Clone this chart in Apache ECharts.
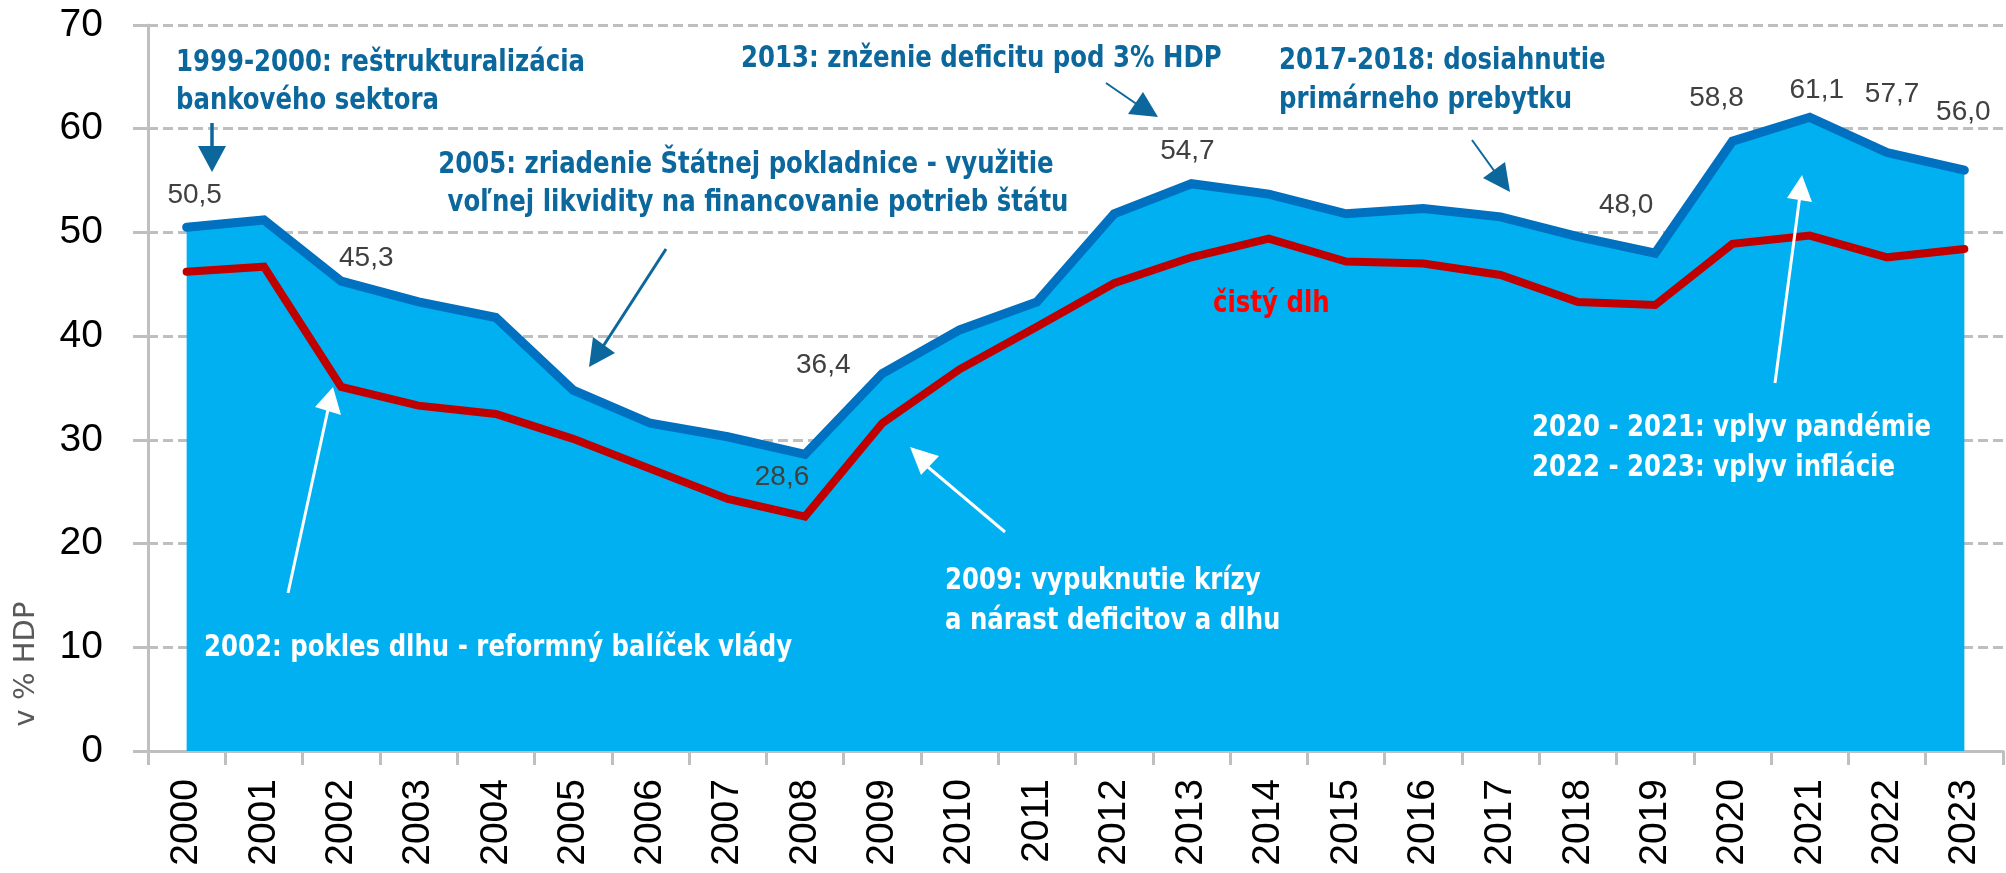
<!DOCTYPE html>
<html>
<head>
<meta charset="utf-8">
<script src="https://cdn.jsdelivr.net/npm/echarts@6/dist/echarts.min.js"></script>
<style>
  html, body { margin: 0; padding: 0; background: #fff; }
  #chart { width: 2006px; height: 873px; }
</style>
</head>
<body>
<div id="chart"></div>
<script>
// years on the x axis
const years = ['2000', '2001', '2002', '2003', '2004', '2005', '2006', '2007', '2008', '2009', '2010', '2011',
  '2012', '2013', '2014', '2015', '2016', '2017', '2018', '2019', '2020', '2021', '2022', '2023'];
// hrubý dlh (% HDP)
const grossDebt = [50.5, 51.2, 45.3, 43.3, 41.8, 34.8, 31.6, 30.3, 28.6, 36.4, 40.6, 43.3,
  51.8, 54.7, 53.7, 51.8, 52.3, 51.5, 49.6, 48.0, 58.8, 61.1, 57.7, 56.0];
// čistý dlh (% HDP)
const netDebt = [46.2, 46.7, 35.1, 33.3, 32.5, 30.1, 27.2, 24.3, 22.6, 31.6, 36.8, 40.9,
  45.1, 47.6, 49.4, 47.2, 47.0, 45.9, 43.3, 43.0, 48.9, 49.7, 47.6, 48.4];
const yTicks = [0, 10, 20, 30, 40, 50, 60, 70];
// which points carry a value label, and where the label sits relative to the point
const labelOffsets = {
  '2000': [8, -32], '2002': [25, -23], '2008': [-23, 23], '2009': [-59, -8], '2013': [-4, -32],
  '2019': [-29, -48], '2020': [-16, -43], '2021': [7, -27], '2022': [5, -58], '2023': [-1, -58]
};

const annoFont = '"Liberation Sans Narrow", "DejaVu Sans Condensed", "Open Sans", sans-serif';
const annoSize = 31;
const darkBlue = '#0B679C';

// the original uses a narrow bold face; squeeze whatever is installed to the same width
const ctx = document.createElement('canvas').getContext('2d');
ctx.font = 'bold ' + annoSize + 'px ' + annoFont;
const squeeze = 409 / ctx.measureText('1999-2000: reštrukturalizácia').width;

const grossData = grossDebt.map(function (v, i) {
  const off = labelOffsets[years[i]];
  if (!off) return v;
  return {
    value: v,
    label: {
      show: true, position: 'inside', offset: off,
      fontFamily: '"Liberation Sans", Arial, sans-serif', fontSize: 28, color: '#404040',
      formatter: function (p) { return p.value.toFixed(1).replace('.', ','); }
    }
  };
});

function txt(text, x, y, color, align) {
  return {
    type: 'text', z: 100, x: x, y: y, scaleX: squeeze,
    style: {
      text: text, fill: color, align: align || 'left', verticalAlign: 'middle',
      font: 'bold ' + annoSize + 'px ' + annoFont
    }
  };
}
function arrow(x1, y1, x2, y2, head, color, width) {
  return [
    { type: 'line', z: 100, shape: { x1: x1, y1: y1, x2: x2, y2: y2 }, style: { stroke: color, lineWidth: width } },
    { type: 'polygon', z: 100, shape: { points: head }, style: { fill: color } }
  ];
}

const graphics = [].concat(
  [
    txt('1999-2000: reštrukturalizácia', 176, 63, darkBlue),
    txt('bankového sektora', 176, 101, darkBlue),
    txt('2005: zriadenie Štátnej pokladnice - využitie', 746, 165, darkBlue, 'center'),
    txt('voľnej likvidity na financovanie potrieb štátu', 758, 203, darkBlue, 'center'),
    txt('2013: znženie deficitu pod 3% HDP', 741, 59, darkBlue),
    txt('2017-2018: dosiahnutie', 1279, 61, darkBlue),
    txt('primárneho prebytku', 1279, 100, darkBlue),
    txt('čistý dlh', 1213, 304, '#FF0000'),
    txt('2002: pokles dlhu - reformný balíček vlády', 204, 648, '#FFFFFF'),
    txt('2009: vypuknutie krízy', 945, 581, '#FFFFFF'),
    txt('a nárast deficitov a dlhu', 945, 621, '#FFFFFF'),
    txt('2020 - 2021: vplyv pandémie', 1532, 428, '#FFFFFF'),
    txt('2022 - 2023: vplyv inflácie', 1532, 468, '#FFFFFF'),
    {
      type: 'text', z: 100, x: 26, y: 664, rotation: Math.PI / 2,
      style: { text: 'v % HDP', fill: '#595959', align: 'center', verticalAlign: 'middle',
        font: '29px "DejaVu Sans", sans-serif' }
    }
  ],
  arrow(212, 123, 212, 148, [[198, 146], [226, 146], [212, 172]], darkBlue, 3.5),
  arrow(666, 249, 602, 348, [[589, 367], [593, 337], [615, 353]], darkBlue, 3),
  arrow(1106, 83, 1138, 105, [[1158, 117], [1128, 114], [1143, 92]], darkBlue, 2),
  arrow(1472, 140, 1495, 172, [[1510, 192], [1483, 178], [1505, 162]], darkBlue, 2),
  arrow(288, 593, 329, 405, [[333, 387], [315, 407], [341, 415]], '#FFFFFF', 3),
  arrow(1005, 532, 922, 462, [[910, 447], [921, 475], [939, 456]], '#FFFFFF', 3),
  arrow(1775, 383, 1800, 195, [[1802, 175], [1787, 198], [1812, 202]], '#FFFFFF', 3)
);

const chart = echarts.init(document.getElementById('chart'));
chart.setOption({
  animation: false,
  backgroundColor: '#fff',
  grid: { left: 148, right: 3, top: 25, bottom: 122 },
  xAxis: {
    type: 'category',
    data: years,
    boundaryGap: true,
    axisLine: { lineStyle: { color: '#BFBFBF', width: 3 } },
    axisTick: { show: true, length: 14, lineStyle: { color: '#BFBFBF', width: 3 } },
    axisLabel: {
      interval: 0, rotate: 90, margin: 28, color: '#000',
      fontFamily: '"Liberation Sans", Arial, sans-serif', fontSize: 39
    },
    splitLine: { show: false }
  },
  yAxis: {
    type: 'value',
    min: yTicks[0], max: yTicks[yTicks.length - 1], interval: 10,
    axisLine: { show: true, lineStyle: { color: '#BFBFBF', width: 3 } },
    axisTick: { show: true, length: 15, lineStyle: { color: '#BFBFBF', width: 3 } },
    axisLabel: {
      margin: 45, color: '#000',
      fontFamily: '"Liberation Sans", Arial, sans-serif', fontSize: 39
    },
    splitLine: { show: true, lineStyle: { color: '#BFBFBF', width: 3, type: [10, 5] } }
  },
  series: [
    {
      name: 'hrubý dlh',
      type: 'line',
      data: grossData,
      symbol: 'circle', symbolSize: 2, showAllSymbol: true,
      itemStyle: { color: '#0070C0' },
      lineStyle: { color: '#0070C0', width: 9, cap: 'round', join: 'miter' },
      areaStyle: { color: '#00B0F0', opacity: 1 },
      z: 2
    },
    {
      name: 'čistý dlh',
      type: 'line',
      data: netDebt,
      symbol: 'none',
      lineStyle: { color: '#C00000', width: 8, cap: 'round', join: 'miter' },
      z: 3
    }
  ],
  graphic: graphics
});
</script>
</body>
</html>
